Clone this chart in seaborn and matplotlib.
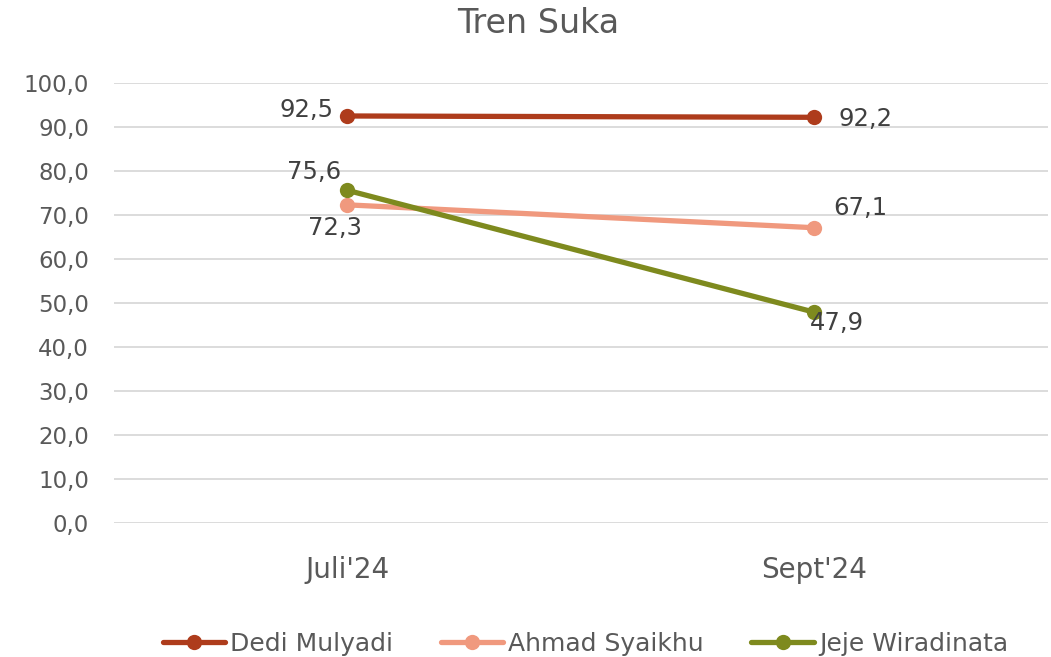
import numpy as np
import pandas as pd
import matplotlib
matplotlib.use("Agg")
import matplotlib.pyplot as plt
from matplotlib.ticker import FuncFormatter
import seaborn as sns

# data
periods = ["Juli'24", "Sept'24"]
candidates = ["Dedi Mulyadi", "Ahmad Syaikhu", "Jeje Wiradinata"]
dedi = [92.5, 92.2]
ahmad = [72.3, 67.1]
jeje = [75.6, 47.9]
colors = ["#AE3C1C", "#F0997E", "#7E8A1E"]

# label offsets in points (per candidate, per period)
label_offsets = {
    "Dedi Mulyadi": [(-10, 4, "right"), (17, -1, "left")],
    "Ahmad Syaikhu": [(-9, -17, "center"), (33, 14, "center")],
    "Jeje Wiradinata": [(-24, 13, "center"), (16, -8, "center")],
}

df = pd.DataFrame({
    "period": periods * 3,
    "candidate": np.repeat(candidates, len(periods)),
    "value": dedi + ahmad + jeje,
})

sns.set_theme(style="white")
plt.rcParams["font.family"] = ["DejaVu Sans"]
text_color = "#595959"

fig = plt.figure(figsize=(10.51, 6.57), dpi=100)
ax = fig.add_axes([0.1085, 0.204, 0.8885, 0.6697])

sns.lineplot(data=df, x="period", y="value", hue="candidate",
             hue_order=candidates, palette=colors, marker="o",
             markersize=11, markeredgewidth=0, linewidth=3.8,
             sort=False, ax=ax)

def fmt(v):
    return f"{v:.1f}".replace(".", ",")

for name, vals in zip(candidates, [dedi, ahmad, jeje]):
    for i, v in enumerate(vals):
        dx, dy, ha = label_offsets[name][i]
        ax.annotate(fmt(v), (i, v), xytext=(dx, dy), textcoords="offset points",
                    ha=ha, va="center", fontsize=17.5, color="#404040")

ax.set_xlim(-0.5, 1.5)
ax.set_ylim(0, 100)
ax.set_yticks(np.arange(0, 101, 10))
ax.yaxis.set_major_formatter(FuncFormatter(lambda v, p: fmt(v)))
ax.grid(axis="y", color="#D9D9D9", linewidth=1.3)
ax.set_axisbelow(True)
for s in ax.spines.values():
    s.set_visible(False)
ax.tick_params(axis="y", length=0, pad=18, labelsize=16.5, labelcolor=text_color)
ax.tick_params(axis="x", length=0, pad=24, labelsize=20, labelcolor=text_color)
ax.set_xlabel("")
ax.set_ylabel("")

fig.suptitle("Tren Suka", y=0.99, x=0.512, fontsize=24, color=text_color)

handles, labels = ax.get_legend_handles_labels()
ax.get_legend().remove()
fig.legend(handles, labels, loc="lower center", bbox_to_anchor=(0.557, -0.032),
           ncol=3, frameon=False, fontsize=18, handlelength=2.5,
           handletextpad=0.2, columnspacing=1.9, labelcolor=text_color)

fig.savefig("out.png", dpi=100)
